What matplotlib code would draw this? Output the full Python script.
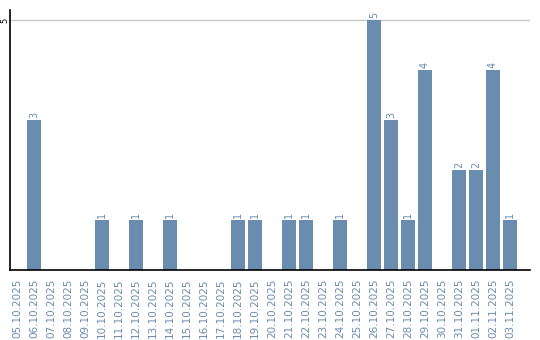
import matplotlib
matplotlib.use("Agg")
import matplotlib.pyplot as plt

dates = ["05.10.2025", "06.10.2025", "07.10.2025", "08.10.2025", "09.10.2025",
         "10.10.2025", "11.10.2025", "12.10.2025", "13.10.2025", "14.10.2025",
         "15.10.2025", "16.10.2025", "17.10.2025", "18.10.2025", "19.10.2025",
         "20.10.2025", "21.10.2025", "22.10.2025", "23.10.2025", "24.10.2025",
         "25.10.2025", "26.10.2025", "27.10.2025", "28.10.2025", "29.10.2025",
         "30.10.2025", "31.10.2025", "01.11.2025", "02.11.2025", "03.11.2025"]
counts = [0, 3, 0, 0, 0, 1, 0, 1, 0, 1,
          0, 0, 0, 1, 1, 0, 1, 1, 0, 1,
          0, 5, 3, 1, 4, 0, 2, 2, 4, 1]

bar_color = "#6a8caf"

fig = plt.figure(figsize=(5.4, 3.4), dpi=100)
ax = fig.add_axes([10 / 540, 70 / 340, 520 / 540, 260 / 340])

x = list(range(len(dates)))
ax.bar(x, counts, width=0.82, color=bar_color, zorder=2)

for xi, c in zip(x, counts):
    if c > 0:
        ax.text(xi, c + 0.04, str(c), rotation=90, ha="center", va="bottom",
                fontsize=7, color=bar_color)

ax.set_xlim(-0.41, 30.18)
ax.set_ylim(0, 5.2)
ax.set_yticks([5])
ax.set_yticklabels(["5"], rotation=90, va="center", ha="center", fontsize=6)
ax.tick_params(axis="y", length=0, pad=4)
ax.axhline(5, color="#c8c8c8", lw=1, zorder=1)

ax.set_xticks(x)
ax.set_xticklabels(dates, rotation=90, fontsize=7.5, color=bar_color)
ax.tick_params(axis="x", length=0, pad=6)

ax.spines["top"].set_visible(False)
ax.spines["right"].set_visible(False)
ax.spines["left"].set_linewidth(1.2)
ax.spines["bottom"].set_linewidth(1.2)

fig.savefig("out.png", dpi=100)
